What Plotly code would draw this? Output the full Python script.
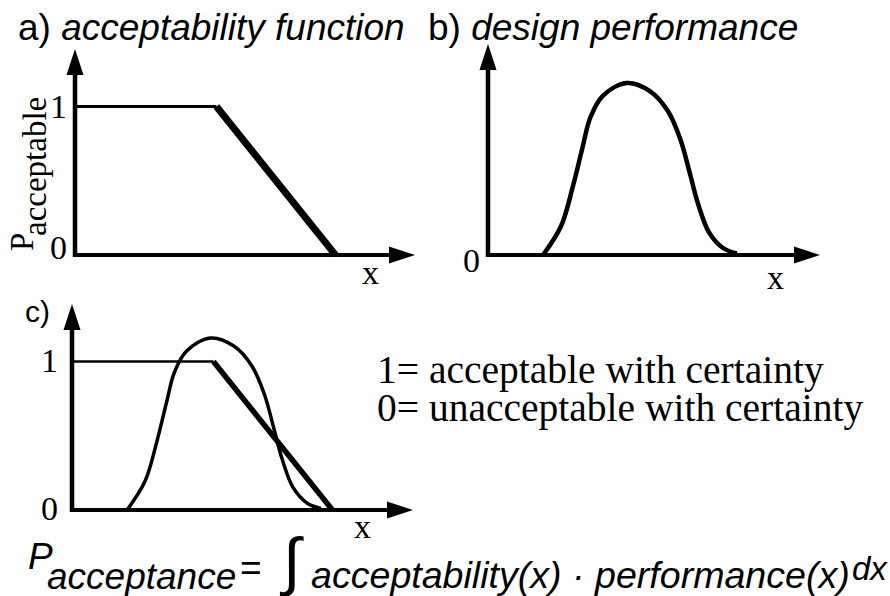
import plotly.graph_objects as go

W, H = 890, 596

# ---------------- data ----------------
acc_x = [0, 4.16, 7.66]          # acceptability function breakpoints
acc_y = [1, 1, 0]
perf_x = [1.62, 2.15, 2.50, 2.78, 3.01, 3.37, 4.07, 4.76, 5.29, 5.66, 5.93, 6.18, 6.50, 6.91, 7.32]
perf_y = [0.0, 0.195, 0.465, 0.724, 0.926, 1.07, 1.158, 1.104, 0.970, 0.778, 0.556, 0.343, 0.152, 0.047, 0.01]
tick_vals = [0, 1]
tick_text = ["0", "1"]
x_label = "x"
titles = ["a) <i>acceptability function</i>", "b) <i>design performance</i>", "c)"]
legend_lines = ["1= acceptable with certainty", "0= unacceptable with certainty"]

# ---------------- geometry ----------------
SX, SY = 34.0, 148.5   # px per data unit
panels = [
    dict(ox=75, oy=255, xtip=415, ytip=49, box=(50, 425, 38, 285),
         tick_x=-0.5, tick_dy={0: 0.05, 1: 0.0}, xlab_dx=-1.3, xlab_y=-0.12),
    dict(ox=488, oy=255, xtip=820, ytip=44, box=(465, 830, 33, 285),
         tick_x=-0.5, tick_dy={0: -0.04}, xlab_dx=-1.3, xlab_y=-0.15),
    dict(ox=72, oy=510, xtip=413, ytip=304, box=(45, 425, 294, 535),
         tick_x=-0.66, tick_dy={0: 0.01, 1: 0.01}, xlab_dx=-1.5, xlab_y=-0.11),
]

def px(x):
    return x / W

def py(y):
    return 1 - y / H

SERIF = "Liberation Serif"
SANS = "Liberation Sans"

fig = go.Figure()
shapes = []
annotations = []

for i, p in enumerate(panels):
    sfx = "" if i == 0 else str(i + 1)
    xa, ya = "x" + sfx, "y" + sfx
    l, r, t, b = p["box"]
    fig.layout["xaxis" + sfx] = dict(
        domain=[px(l), px(r)], range=[(l - p["ox"]) / SX, (r - p["ox"]) / SX],
        visible=False, fixedrange=True, anchor=ya)
    fig.layout["yaxis" + sfx] = dict(
        domain=[py(b), py(t)], range=[(p["oy"] - b) / SY, (p["oy"] - t) / SY],
        visible=False, fixedrange=True, anchor=xa)
    # axes with arrow heads
    L, HW = 26, 8.5
    xt = (p["xtip"] - p["ox"]) / SX
    yt = (p["oy"] - p["ytip"]) / SY
    xb = xt - L / SX
    yb = yt - L / SY
    x0 = -2 / SX
    shapes.append(dict(type="line", xref=xa, yref=ya, x0=x0, y0=0, x1=xb + 0.05, y1=0,
                       line=dict(color="black", width=4)))
    shapes.append(dict(type="line", xref=xa, yref=ya, x0=0, y0=-2 / SY, x1=0, y1=yb + 0.02,
                       line=dict(color="black", width=4.5)))
    shapes.append(dict(type="path", xref=xa, yref=ya,
                       path=f"M{xt},0 L{xb},{HW / SY} L{xb},{-HW / SY} Z",
                       fillcolor="black", line=dict(width=0)))
    shapes.append(dict(type="path", xref=xa, yref=ya,
                       path=f"M0,{yt} L{-HW / SX},{yb} L{HW / SX},{yb} Z",
                       fillcolor="black", line=dict(width=0)))

    if i in (0, 2):
        thin, thick = (3, 7) if i == 0 else (2.5, 5.5)
        fig.add_trace(go.Scatter(x=acc_x[:2], y=acc_y[:2], mode="lines", xaxis=xa, yaxis=ya,
                                 line=dict(color="black", width=thin), showlegend=False,
                                 hoverinfo="skip"))
        fig.add_trace(go.Scatter(x=acc_x[1:], y=acc_y[1:], mode="lines", xaxis=xa, yaxis=ya,
                                 line=dict(color="black", width=thick), showlegend=False,
                                 hoverinfo="skip"))
    if i in (1, 2):
        fig.add_trace(go.Scatter(x=perf_x, y=perf_y, mode="lines", xaxis=xa, yaxis=ya,
                                 line=dict(color="black", width=4.5 if i == 1 else 3.5,
                                           shape="spline", smoothing=1.0),
                                 showlegend=False, hoverinfo="skip"))

    # tick labels
    for v, s in zip(tick_vals, tick_text):
        if v not in p["tick_dy"]:
            continue
        annotations.append(dict(xref=xa, yref=ya, x=p["tick_x"], y=v + p["tick_dy"][v],
                                text=s, showarrow=False, xanchor="center", yanchor="middle",
                                font=dict(family=SERIF, size=34, color="black")))
    # x label
    annotations.append(dict(xref=xa, yref=ya, x=xt + p["xlab_dx"], y=p["xlab_y"], text=x_label,
                            showarrow=False, xanchor="center", yanchor="middle",
                            font=dict(family=SERIF, size=34, color="black")))

# titles
annotations.append(dict(xref="paper", yref="paper", x=px(16), y=py(27), text=titles[0],
                        showarrow=False, xanchor="left", yanchor="middle",
                        font=dict(family=SANS, size=37, color="black")))
annotations.append(dict(xref="paper", yref="paper", x=px(426), y=py(27), text=titles[1],
                        showarrow=False, xanchor="left", yanchor="middle",
                        font=dict(family=SANS, size=37, color="black")))
annotations.append(dict(xref="paper", yref="paper", x=px(23), y=py(311), text=titles[2],
                        showarrow=False, xanchor="left", yanchor="middle",
                        font=dict(family=SANS, size=30, color="black")))

# P_acceptable rotated label
annotations.append(dict(xref="paper", yref="paper", x=px(22), y=py(242), text="P",
                        showarrow=False, textangle=-90, xanchor="center", yanchor="middle",
                        font=dict(family=SERIF, size=33, color="black")))
annotations.append(dict(xref="paper", yref="paper", x=px(35), y=py(167), text="acceptable",
                        showarrow=False, textangle=-90, xanchor="center", yanchor="middle",
                        font=dict(family=SERIF, size=33, color="black")))

# legend lines
for k, (txt, yc) in enumerate(zip(legend_lines, [370, 408])):
    annotations.append(dict(xref="paper", yref="paper", x=px(375), y=py(yc), text=txt,
                            showarrow=False, xanchor="left", yanchor="middle",
                            font=dict(family=SERIF, size=39.5, color="black")))

# formula
F = dict(family=SANS, size=37, color="black")
annotations += [
    dict(xref="paper", yref="paper", x=px(26), y=py(556), text="<i>P</i>", showarrow=False,
         xanchor="left", yanchor="middle", font=F),
    dict(xref="paper", yref="paper", x=px(45), y=py(576), text="<i>acceptance</i>", showarrow=False,
         xanchor="left", yanchor="middle", font=F),
    dict(xref="paper", yref="paper", x=px(251), y=py(567), text="=", showarrow=False,
         xanchor="center", yanchor="middle", font=F),
    dict(xref="paper", yref="paper", x=px(291), y=py(561), text="\u222b", showarrow=False,
         xanchor="center", yanchor="middle", font=dict(family=SANS, size=64, color="black")),
    dict(xref="paper", yref="paper", x=px(309), y=py(575),
         text="<i>acceptability(x) \u00b7 performance(x)</i>", showarrow=False,
         xanchor="left", yanchor="middle", font=dict(family=SANS, size=37.6, color="black")),
    dict(xref="paper", yref="paper", x=px(850), y=py(568), text="<i>dx</i>", showarrow=False,
         xanchor="left", yanchor="middle", font=dict(family=SANS, size=33, color="black")),
]

fig.update_layout(width=W, height=H, margin=dict(l=0, r=0, t=0, b=0),
                  paper_bgcolor="white", plot_bgcolor="white",
                  shapes=shapes, annotations=annotations, showlegend=False)
fig.write_html("out.html", config={"displayModeBar": False},
               post_script="document.body.style.margin='0px';document.body.style.overflow='hidden';")
